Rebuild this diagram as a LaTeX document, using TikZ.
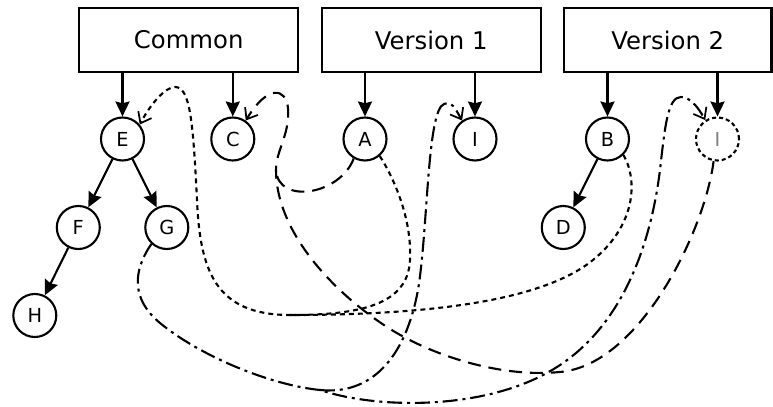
\documentclass[tikz,border=0pt]{standalone}
\usepackage{fontspec}
\setmainfont{DejaVu Sans}
\usetikzlibrary{arrows.meta}

\begin{document}
\begin{tikzpicture}[
x=2mm, y=-2mm, line width=1.2pt,
verbox/.style={draw, rectangle, minimum width=4.38cm, minimum height=1.29cm, font=\fontsize{13.85pt}{16pt}\selectfont},
item/.style={draw, circle, minimum size=0.86cm, inner sep=0pt, font=\fontsize{11pt}{13pt}\selectfont},
ghost/.style={item, dash pattern=on 2.3pt off 1.7pt, text=gray},
tree/.style={-{Stealth[length=8.5pt, width=8pt, inset=1pt]}},
dotlink/.style={-{Straight Barb[length=5.5pt, width=8.5pt, line width=1pt]}, dash pattern=on 2.8pt off 2.3pt},
dashlink/.style={-{Straight Barb[length=5.5pt, width=8.5pt, line width=1pt]}, dash pattern=on 7.4pt off 4.5pt},
dashdotlink/.style={-{Straight Barb[length=5.5pt, width=8.5pt, line width=1pt]}, dash pattern=on 8.5pt off 2.8pt on 1.7pt off 2.8pt}
]
\useasboundingbox (0,0) rectangle (77.3,40.7);
\clip (0,0) rectangle (77.3,40.7);

\node (common) at (18.87, 4) [verbox] {Common};
\node (ver1) at (43.12, 4) [verbox] {Version 1};
\node (ver2) at (66.78, 4) [verbox, minimum width=4.15cm] {Version 2};

\node (e) at (12.25, 13.9) [item] {E};
\node (c) at (23.28, 13.9) [item] {C};
\node (a) at (36.5, 13.9) [item] {A};
\node (i1) at (47.5, 13.9) [item] {I};
\node (b) at (60.75, 13.9) [item] {B};
\node (i2) at (71.75, 13.9) [ghost] {I};
\node (f) at (7.83, 22.75) [item] {F};
\node (g) at (16.68, 22.75) [item] {G};
\node (d) at (56.33, 22.75) [item] {D};
\node (h) at (3.48, 31.55) [item] {H};

% where the curves meet
\coordinate (ejoin) at (29, 31.5);
\coordinate (cjoin) at (27.6, 17);
\coordinate (gjoin) at (32, 39);

\draw[tree] (common.south -| e) -- (e);
\draw[tree] (common.south -| c) -- (c);
\draw[tree] (ver1.south -| a) -- (a);
\draw[tree] (ver1.south -| i1) -- (i1);
\draw[tree] (ver2.south -| b) -- (b);
\draw[tree] (ver2.south -| i2) -- (i2);
\draw[tree] (e) -- (f);
\draw[tree] (e) -- (g);
\draw[tree] (f) -- (h);
\draw[tree] (b) -- (d);

% into E
\draw[dotlink] (b.-45) .. controls (63.8,18) and (63.6,22.5) .. (59.3,26)
  .. controls (54,30.3) and (42,31.5) .. (ejoin)
  .. controls (21.5,31.5) and (20,27) .. (19.7,20)
  .. controls (19.3,12) and (19,8.7) .. (17.5,8.7)
  .. controls (16.5,8.7) and (15,10.5) .. (e.40);
\draw[dotlink, -] (a.-49) .. controls (39.5,18) and (41.2,22) .. (41,26)
  .. controls (40.8,30.5) and (36,31.5) .. (ejoin);

% into C
\draw[dashlink] (i2.-100) .. controls (70.5,23) and (64,36.5) .. (56,37.2)
  .. controls (50,37.8) and (43,35.5) .. (38.7,32.7)
  .. controls (33,29) and (27.6,23) .. (cjoin)
  .. controls (27.6,15) and (29,13.5) .. (28.8,10.8)
  .. controls (28.6,8.8) and (26.8,8.4) .. (c.55);
\draw[dashlink, -] (a.-120) .. controls (34,19.5) and (27.8,20.5) .. (cjoin);

% from G
\draw[dashdotlink] (g.-133) .. controls (13.2,27.2) and (13.2,30) .. (16,32.3)
  .. controls (20,35.6) and (27,38.5) .. (gjoin)
  .. controls (38,41) and (49,41) .. (55.7,36.7)
  .. controls (62,32.7) and (65,25) .. (66,17)
  .. controls (66.5,12.5) and (66.8,9.7) .. (68.1,9.7)
  .. controls (69,9.7) and (69.8,10.7) .. (i2.123);
\draw[dashdotlink] (gjoin) .. controls (37,39.5) and (40.5,36) .. (41.8,29)
  .. controls (42.8,23) and (42.7,11) .. (44.4,10.4)
  .. controls (45.2,10.1) and (45.5,10.8) .. (i1.125);

\end{tikzpicture}
\end{document}
